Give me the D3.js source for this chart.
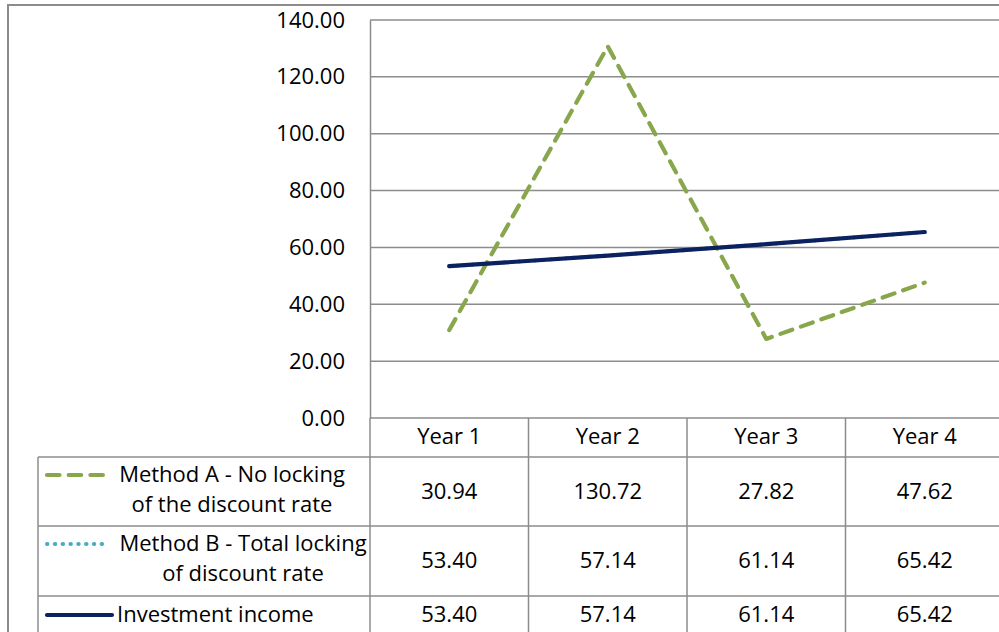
<!DOCTYPE html>
<html><head><meta charset="utf-8">
<script src="https://cdn.jsdelivr.net/npm/d3@7"></script>
<style>
html,body{margin:0;padding:0;background:#fff;overflow:hidden}
text{font-family:"Open Sans",sans-serif;font-size:22px;fill:#000}
</style></head>
<body>
<svg id="chart" width="999" height="632"></svg>
<script>
const years = ["Year 1", "Year 2", "Year 3", "Year 4"];
const methodA = [30.94, 130.72, 27.82, 47.62];
const methodB = [53.40, 57.14, 61.14, 65.42];
const investment = [53.40, 57.14, 61.14, 65.42];
const yTicks = [0, 20, 40, 60, 80, 100, 120, 140];
const seriesLabels = [
  ["Method A - No locking", "of the discount rate"],
  ["Method B - Total locking", "of discount rate"],
  ["Investment income"]
];

const svg = d3.select("#chart");
const gridColor = "#8c8c8c";
const plot = {left: 370, right: 1004, top: 20, bottom: 418};

const x = d3.scaleBand().domain(years).range([plot.left, plot.right]).padding(0);
const y = d3.scaleLinear().domain([0, 140]).range([plot.bottom, plot.top]);
const xc = d => x(d) + x.bandwidth() / 2;

// outer chart border
svg.append("rect").attr("x", 8).attr("y", 5).attr("width", 1100).attr("height", 700)
  .attr("fill", "none").attr("stroke", gridColor).attr("stroke-width", 2);

// gridlines
svg.append("g").selectAll("line").data(yTicks).join("line")
  .attr("x1", plot.left).attr("x2", plot.right)
  .attr("y1", d => y(d)).attr("y2", d => y(d))
  .attr("stroke", gridColor).attr("stroke-width", 1.5);

// y axis
const yAxis = d3.axisLeft(y).tickValues(yTicks).tickFormat(d3.format(".2f")).tickSize(0).tickPadding(25);
const gy = svg.append("g").attr("transform", `translate(${plot.left},0)`).call(yAxis);
gy.select(".domain").attr("stroke", gridColor).attr("stroke-width", 1.5);
gy.selectAll("text").style("font-family", '"Open Sans",sans-serif').style("font-size", "22px").attr("fill", "#000");

// table
const rows = [
  {top: 418, bottom: 457},
  {top: 457, bottom: 526},
  {top: 526, bottom: 596},
  {top: 596, bottom: 635}
];
const tableLeft = 38;
const tg = svg.append("g");
rows.slice(1).forEach(r => {
  tg.append("line").attr("x1", tableLeft).attr("x2", plot.right).attr("y1", r.top).attr("y2", r.top)
    .attr("stroke", gridColor).attr("stroke-width", 1.5);
});
tg.append("line").attr("x1", tableLeft).attr("x2", plot.right).attr("y1", rows[3].bottom).attr("y2", rows[3].bottom)
  .attr("stroke", gridColor).attr("stroke-width", 1.5);
tg.append("line").attr("x1", tableLeft).attr("x2", tableLeft).attr("y1", rows[1].top).attr("y2", 700)
  .attr("stroke", gridColor).attr("stroke-width", 1.5);
[plot.left, ...years.slice(1).map(d => x(d)), plot.right].forEach(xx => {
  tg.append("line").attr("x1", xx).attr("x2", xx).attr("y1", plot.bottom).attr("y2", 700)
    .attr("stroke", gridColor).attr("stroke-width", 1.5);
});
tg.selectAll("text.hdr").data(years).join("text").attr("class", "hdr")
  .attr("x", d => xc(d)).attr("y", 444).attr("text-anchor", "middle").text(d => d);

const series = [
  {values: methodA, color: "#88a64c", dash: "12.5,9.2", cap: "round", width: 4.2},
  {values: methodB, color: "#4bacc6", dash: "0.5,7.3", cap: "round", width: 4},
  {values: investment, color: "#0b2160", dash: null, cap: "round", width: 4.2}
];

series.forEach((s, i) => {
  const r = rows[i + 1];
  const lines = seriesLabels[i];
  const g = tg.append("g");
  if (lines.length === 2) {
    lines.forEach((t, k) => {
      g.append("text").attr("x", i === 0 ? 232 : 243).attr("y", r.top + 25 + k * 30)
        .attr("text-anchor", "middle").text(t);
    });
  } else {
    g.append("text").attr("x", 117).attr("y", r.top + 26).text(lines[0]);
  }
  const ky = lines.length === 2 ? r.top + 18 : r.top + 19;
  g.append("line").attr("x1", 47).attr("x2", i === 2 ? 112 : 106).attr("y1", ky).attr("y2", ky)
    .attr("stroke", s.color).attr("stroke-width", s.width).attr("stroke-linecap", s.cap)
    .attr("stroke-dasharray", s.dash);
  g.selectAll("text.val").data(s.values).join("text").attr("class", "val")
    .attr("x", (d, j) => xc(years[j]))
    .attr("y", lines.length === 2 ? (r.top + r.bottom) / 2 + 7 : r.top + 26)
    .attr("text-anchor", "middle").text(d => d.toFixed(2));
});

const lineGen = d3.line().x((d, j) => xc(years[j])).y(d => y(d));
series.forEach(s => {
  svg.append("path").datum(s.values).attr("d", lineGen)
    .attr("fill", "none").attr("stroke", s.color).attr("stroke-width", s.width)
    .attr("stroke-linecap", s.cap).attr("stroke-linejoin", "round")
    .attr("stroke-dasharray", s.dash);
});
</script>
</body></html>
